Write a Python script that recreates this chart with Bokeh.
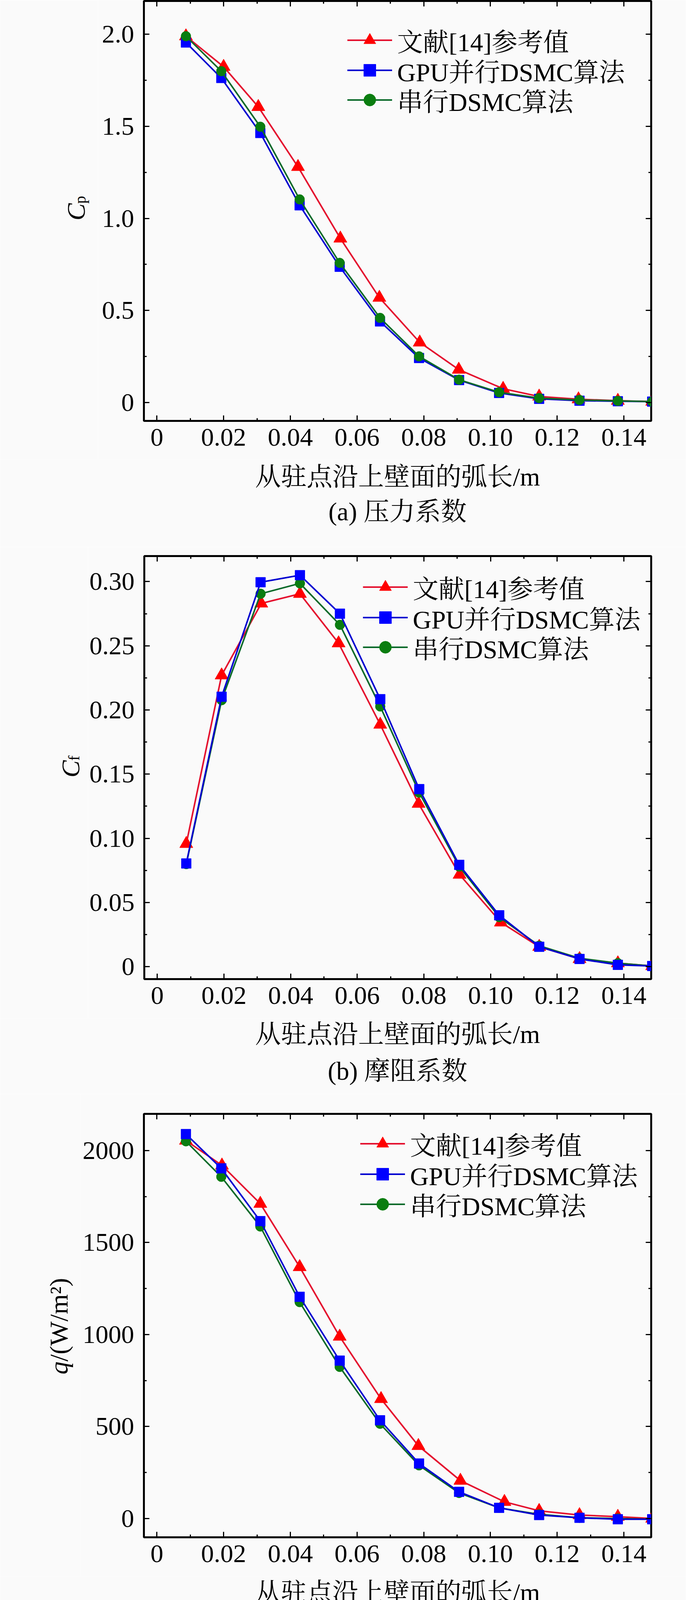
import numpy as np
from bokeh.plotting import figure
from bokeh.models import LinearAxis, FixedTicker, Range1d, Legend, LegendItem
from bokeh.layouts import column, row
from bokeh.core.properties import value
from bokeh.embed import file_html
from bokeh.resources import INLINE

# ---------------- data ----------------
x_ticks = [0.0, 0.02, 0.04, 0.06, 0.08, 0.10, 0.12, 0.14]
x_tick_labels = ["0", "0.02", "0.04", "0.06", "0.08", "0.10", "0.12", "0.14"]
x_minor = [0.01, 0.03, 0.05, 0.07, 0.09, 0.11, 0.13]

series_names = ["文献[14]参考值", "GPU并行DSMC算法", "串行DSMC算法"]

# simulated (GPU / serial) arc-length positions
x_sim = [0.0087, 0.0193, 0.0310, 0.0428, 0.0548, 0.0669, 0.0786, 0.0906,
         0.1026, 0.1146, 0.1267, 0.1382, 0.1485]

# (a) pressure coefficient
xa_ref = [0.0087, 0.0200, 0.0304, 0.0423, 0.0550, 0.0667, 0.0788, 0.0905,
          0.1038, 0.1146, 0.1264, 0.1382, 0.1485]
cp_ref = [1.99, 1.824, 1.606, 1.280, 0.891, 0.569, 0.326, 0.178, 0.074, 0.032, 0.017, 0.009, 0.004]
cp_gpu = [1.956, 1.763, 1.464, 1.071, 0.737, 0.440, 0.241, 0.121, 0.051, 0.019, 0.009, 0.006, 0.004]
cp_ser = [1.99, 1.80, 1.498, 1.103, 0.758, 0.459, 0.250, 0.123, 0.055, 0.023, 0.013, 0.008, 0.004]
ya_ticks = [0.0, 0.5, 1.0, 1.5, 2.0]
ya_tick_labels = ["0", "0.5", "1.0", "1.5", "2.0"]
ya_minor = [0.25, 0.75, 1.25, 1.75]

# (b) friction coefficient
xb_ref = [0.0087, 0.0193, 0.0312, 0.0428, 0.0544, 0.0669, 0.0784, 0.0907,
          0.1031, 0.1146, 0.1267, 0.1382, 0.1485]
cf_ref = [0.0957, 0.227, 0.283, 0.2905, 0.252, 0.1886, 0.127, 0.0717, 0.0345, 0.0155, 0.006, 0.0027, 0.0005]
cf_gpu = [0.0804, 0.2103, 0.2995, 0.305, 0.275, 0.2084, 0.1383, 0.0793, 0.040, 0.0155, 0.006, 0.0014, 0.0005]
cf_ser = [0.0799, 0.2076, 0.2905, 0.2986, 0.2663, 0.2027, 0.1356, 0.078, 0.0386, 0.0163, 0.0065, 0.0027, 0.0005]
yb_ticks = [0.0, 0.05, 0.10, 0.15, 0.20, 0.25, 0.30]
yb_tick_labels = ["0", "0.05", "0.10", "0.15", "0.20", "0.25", "0.30"]
yb_minor = [0.025, 0.075, 0.125, 0.175, 0.225, 0.275]

# (c) heat flux
xc_ref = [0.0087, 0.0195, 0.0310, 0.0428, 0.0548, 0.0672, 0.0784, 0.0910,
          0.1042, 0.1146, 0.1267, 0.1382, 0.1485]
q_ref = [2054, 1919, 1711, 1367, 989, 650, 395, 206, 91, 42, 19, 10, 0]
q_gpu = [2089, 1903, 1616, 1205, 858, 534, 299, 145, 58, 19, 4, -4, -4]
q_ser = [2050, 1857, 1587, 1176, 824, 515, 289, 139, 58, 23, 4, 0, -4]
yc_ticks = [0, 500, 1000, 1500, 2000]
yc_tick_labels = ["0", "500", "1000", "1500", "2000"]
yc_minor = [250, 750, 1250, 1750]

captions = ["(a) 压力系数", "(b) 摩阻系数", "(c) 热流通量"]
x_label = "从驻点沿上壁面的弧长/m"

# ---------------- style ----------------
FONT = "'Liberation Serif', 'Noto Serif CJK SC', 'Noto Sans CJK SC'"
LATIN = "Liberation Serif"
FS = "66px"
BG = "#fafafa"
RED_L, RED_M = "#e4102e", "#ff0000"
BLUE_L, BLUE_M = "#0000d0", "#0000ff"
GREEN_L, GREEN_M = "#0b6a2a", "#0a7d10"
TOTAL_W = 1756
BOTTOM = 100


def style_axis(ax, ticks, minor, labels, show):
    ax.ticker = FixedTicker(ticks=ticks, minor_ticks=minor)
    if show:
        ax.major_label_overrides = {t: s for t, s in zip(ticks, labels)}
    else:
        ax.major_label_overrides = {t: "" for t in ticks}
        ax.major_label_standoff = 0
    ax.axis_line_color = None
    ax.major_tick_in = 14
    ax.major_tick_out = 0
    ax.minor_tick_in = 7
    ax.minor_tick_out = 0
    ax.major_tick_line_width = 3
    ax.minor_tick_line_width = 3
    ax.major_tick_line_color = "black"
    ax.minor_tick_line_color = "black"
    ax.major_label_text_font = LATIN
    ax.major_label_text_font_size = FS
    ax.major_label_text_color = "black"


def blank(width, height, top=0, bottom=0):
    fh = height - top - bottom
    s = figure(width=width, height=height, output_backend="svg",
               toolbar_location=None, x_range=Range1d(0, width),
               y_range=Range1d(0, fh), x_axis_location=None,
               y_axis_location=None, min_border_left=0, min_border_right=0,
               min_border_top=top, min_border_bottom=bottom,
               background_fill_color=BG, border_fill_color=BG)
    s.grid.visible = False
    s.outline_line_color = None
    return s


def label_strip(width, height, top, pieces):
    """Narrow figure left of a panel that carries the rotated y-axis title."""
    s = blank(width, height, top, BOTTOM)
    for (txt, lx, ly, fs, style) in pieces:
        s.text(x=[lx], y=[ly], text=[txt], angle=np.pi / 2,
               text_font=value(LATIN), text_font_size=fs,
               text_font_style=style, text_align="left",
               text_baseline="alphabetic", text_color="black")
    return s


def caption_strip(height, label_y, caption, caption_y):
    s = blank(TOTAL_W, height)
    s.text(x=[1017.5, 1017.5], y=[label_y, caption_y], text=[x_label, caption],
           text_font=value(FONT), text_font_size=FS, text_align="center",
           text_baseline="middle", text_color="black")
    return s


def panel(strip_w, frame_h, top, total_h, yr, yt, ym, ytl, x_ref, ref, gpu,
          ser, order, leg_x, leg_ys, ylabels, label_y, caption, caption_y):
    height = top + frame_h + BOTTOM
    p = figure(width=TOTAL_W - strip_w, height=height, output_backend="svg",
               toolbar_location=None, x_range=Range1d(-0.0039, 0.1482),
               y_range=Range1d(*yr), min_border_left=376 - 8 - strip_w,
               min_border_right=89, min_border_top=top,
               min_border_bottom=BOTTOM,
               background_fill_color=BG, border_fill_color=BG)
    p.grid.visible = False
    p.outline_line_color = "black"
    p.outline_line_width = 5
    p.outline_line_alpha = 1.0

    style_axis(p.xaxis[0], x_ticks, x_minor, x_tick_labels, True)
    style_axis(p.yaxis[0], yt, ym, ytl, True)
    p.xaxis[0].major_label_standoff = 20
    p.yaxis[0].major_label_standoff = 25

    top_ax = LinearAxis()
    style_axis(top_ax, x_ticks, x_minor, x_tick_labels, False)
    p.add_layout(top_ax, "above")
    right_ax = LinearAxis()
    style_axis(right_ax, yt, ym, ytl, False)
    p.add_layout(right_ax, "right")

    specs = {
        "ref": (x_ref, ref, RED_L, RED_M, "triangle", 34),
        "gpu": (x_sim, gpu, BLUE_L, BLUE_M, "square", 25),
        "ser": (x_sim, ser, GREEN_L, GREEN_M, "circle", 25),
    }
    rends = {}
    for key in order:
        xs, ys, lc, mc, mk, sz = specs[key]
        lr = p.line(xs, ys, line_color=lc, line_width=4)
        sr = p.scatter(xs, ys, marker=mk, size=sz, fill_color=mc,
                       line_color=mc, line_width=1)
        rends[key] = [lr, sr]

    for name, key, ly in zip(series_names, ["ref", "gpu", "ser"], leg_ys):
        leg = Legend(items=[LegendItem(label=name, renderers=rends[key])],
                     location=(leg_x, ly), glyph_width=115, glyph_height=77,
                     label_height=77, label_standoff=13, spacing=0, padding=0,
                     margin=0, border_line_color=None,
                     background_fill_alpha=0.0, label_text_font=FONT,
                     label_text_font_size=FS, label_text_color="black")
        p.add_layout(leg, "center")

    strip = label_strip(strip_w, height, top, ylabels)
    cap = caption_strip(total_h - height, label_y, caption, caption_y)
    return column(row(strip, p, spacing=0), cap, spacing=0)


ra = panel(250, 1075, 2, 1400, (-0.1008, 2.1815), ya_ticks, ya_minor, ya_tick_labels,
           xa_ref, cp_ref, cp_gpu, cp_ser, ["ref", "gpu", "ser"],
           521, [927, 850, 774],
           [("C", 194, 513, FS, "italic"), ("p", 205, 556, "40px", "normal")],
           180, captions[0], 91)

rb = panel(225, 1083, 23, 1400, (-0.0097, 0.3199), yb_ticks, yb_minor, yb_tick_labels,
           xb_ref, cf_ref, cf_gpu, cf_ser, ["ref", "ser", "gpu"],
           560, [956, 878, 802],
           [("C", 180, 516, FS, "italic"), ("f", 189, 559, "40px", "normal")],
           153, captions[1], 59)

rc = panel(205, 1084, 51, 1408, (-102, 2199), yc_ticks, yc_minor, yc_tick_labels,
           xc_ref, q_ref, q_gpu, q_ser, ["ref", "ser", "gpu"],
           554, [960, 882, 805],
           [("q", 150, 417, FS, "italic"), ("/(W/m²)", 150, 450, FS, "normal")],
           132, captions[2], 52)

layout = column(ra, rb, rc, spacing=0)
open("out.html", "w").write(file_html(layout, INLINE))
